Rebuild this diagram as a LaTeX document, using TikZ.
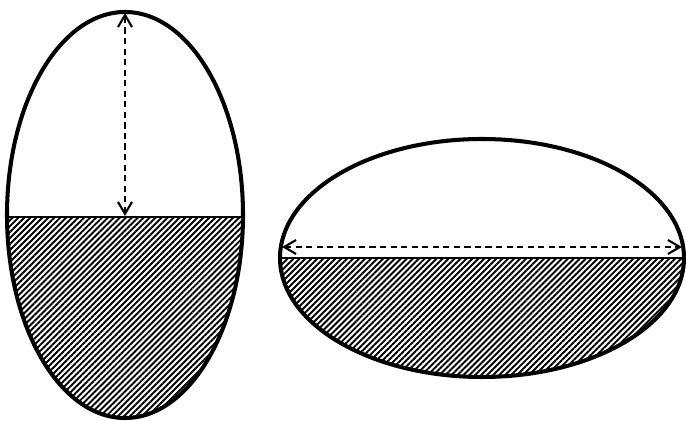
\documentclass[tikz,border=0pt]{standalone}
\usetikzlibrary{arrows.meta,patterns.meta}

\begin{document}
\begin{tikzpicture}[
  x=0.02cm, y=-0.02cm,
  shell/.style={line width=2.3pt},
  water/.style={line width=0.9pt},
  hatch/.style={pattern={Lines[angle=45,distance=2.4pt,line width=1.1pt]}},
  gauge/.style={{Straight Barb[length=2.4mm,width=2.8mm]}-{Straight Barb[length=2.4mm,width=2.8mm]}, line width=1.2pt, dash pattern=on 3.5pt off 2.5pt}
]
\useasboundingbox (0,0) rectangle (686,421);
% upright vessel
\begin{scope}
  \clip (125,215) ellipse [x radius=118, y radius=203];
  \path[hatch] (0,217) rectangle (250,421);
\end{scope}
\draw[water] (7,217) -- (243,217);
\draw[shell] (125,215) ellipse [x radius=118, y radius=203];
\coordinate (tiptop) at (125,13);
\coordinate (tipwater) at (125,216);
\draw[gauge] (tipwater) -- (tiptop);
% lying vessel
\begin{scope}
  \clip (482,258) ellipse [x radius=202, y radius=119];
  \path[hatch] (270,258) rectangle (686,380);
\end{scope}
\draw[water] (280,258) -- (684,258);
\draw[shell] (482,258) ellipse [x radius=202, y radius=119];
\coordinate (tipleft) at (282,247);
\coordinate (tipright) at (682,247);
\draw[gauge] (tipleft) -- (tipright);
\end{tikzpicture}
\end{document}
